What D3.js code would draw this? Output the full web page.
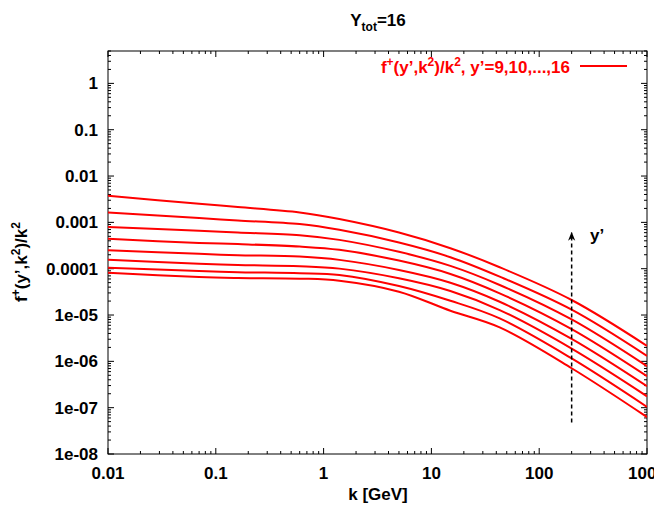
<!DOCTYPE html>
<html>
<head>
<meta charset="utf-8">
<script src="https://cdn.jsdelivr.net/npm/d3@7"></script>
<style>
  html, body { margin: 0; padding: 0; background: #fff; }
  svg { display: block; font-family: "Liberation Sans", Arial, sans-serif; font-weight: bold; }
</style>
</head>
<body>
<svg id="chart" width="654" height="506"></svg>
<script>
// ---- data ----
const kValues = [0.01, 0.07, 0.16, 0.6, 1.4, 5, 15, 43, 200, 1000];
const yPrimes = [9, 10, 11, 12, 13, 14, 15, 16];
const f_y9  = [8.21e-5, 6.6e-5, 6.3e-5, 6.1e-5,  5.51e-5, 3.19e-5, 1.236e-5, 5.40e-6, 7.10e-7, 6.27e-8];
const f_y10 = [1.054e-4, 8.9e-5, 8.4e-5, 8.0e-5, 7.33e-5, 4.23e-5, 2.03e-5, 8.46e-6, 1.158e-6, 1.042e-7];
const f_y11 = [1.55e-4, 1.28e-4, 1.2e-4, 1.13e-4, 1.003e-4, 6.22e-5, 3.30e-5, 1.28e-5, 1.88e-6, 1.76e-7];
const f_y12 = [2.51e-4, 2.09e-4, 1.956e-4, 1.824e-4, 1.55e-4, 9.40e-5, 4.99e-5, 1.936e-5, 3.05e-6, 2.90e-7];
const f_y13 = [4.41e-4, 3.6e-4, 3.4e-4, 3.00e-4, 2.55e-4, 1.495e-4, 7.70e-5, 2.94e-5, 4.96e-6, 4.77e-7];
const f_y14 = [7.90e-4, 6.57e-4, 6.03e-4, 5.30e-4, 4.19e-4, 2.31e-4, 1.148e-4, 4.45e-5, 8.01e-6, 7.85e-7];
const f_y15 = [1.635e-3, 1.237e-3, 1.098e-3, 9.18e-4, 6.90e-4, 3.67e-4, 1.77e-4, 6.73e-5, 1.30e-5, 1.305e-6];
const f_y16 = [3.76e-3, 2.52e-3, 2.14e-3, 1.635e-3, 1.177e-3, 6.03e-4, 2.77e-4, 1.075e-4, 2.11e-5, 2.16e-6];
const seriesValues = [f_y9, f_y10, f_y11, f_y12, f_y13, f_y14, f_y15, f_y16];

const xTickValues = [0.01, 0.1, 1, 10, 100, 1000];
const xTickLabels = ["0.01", "0.1", "1", "10", "100", "1000"];
const yTickValues = [1, 0.1, 0.01, 0.001, 0.0001, 1e-5, 1e-6, 1e-7, 1e-8];
const yTickLabels = ["1", "0.1", "0.01", "0.001", "0.0001", "1e-05", "1e-06", "1e-07", "1e-08"];

const arrowK = 200;
const arrowFrom = 4.8e-8;
const arrowTo = 6.0e-4;

// ---- layout ----
const svg = d3.select("#chart");
const pL = 108, pR = 647, pT = 51, pB = 454;
const x = d3.scaleLog().domain([0.01, 1000]).range([pL, pR]);
const y = d3.scaleLog().domain([1e-8, 5]).range([pB, pT]);
const red = "#ff0000";
const fs = 17;

// frame
svg.append("rect").attr("x", pL).attr("y", pT)
  .attr("width", pR - pL).attr("height", pB - pT)
  .attr("fill", "none").attr("stroke", "#000").attr("stroke-width", 1);

// ticks (inward, mirrored)
const majorLen = 6, minorLen = 3;
const xMinor = [];
for (let e = -2; e < 3; e++) for (let m = 2; m <= 9; m++) xMinor.push(m * Math.pow(10, e));
const yMinor = [];
for (let e = -8; e < 1; e++) for (let m = 2; m <= 9; m++) { const v = m * Math.pow(10, e); if (v <= 5) yMinor.push(v); }

const tg = svg.append("g").attr("stroke", "#000").attr("stroke-width", 1);
function xt(v, len) {
  tg.append("line").attr("x1", x(v)).attr("x2", x(v)).attr("y1", pB).attr("y2", pB - len);
  tg.append("line").attr("x1", x(v)).attr("x2", x(v)).attr("y1", pT).attr("y2", pT + len);
}
function yt(v, len) {
  tg.append("line").attr("x1", pL).attr("x2", pL + len).attr("y1", y(v)).attr("y2", y(v));
  tg.append("line").attr("x1", pR).attr("x2", pR - len).attr("y1", y(v)).attr("y2", y(v));
}
xTickValues.forEach(v => xt(v, majorLen));
xMinor.forEach(v => xt(v, minorLen));
yTickValues.forEach(v => yt(v, majorLen));
yMinor.forEach(v => yt(v, minorLen));

// tick labels
svg.append("g").selectAll("text").data(xTickValues).join("text")
  .attr("x", d => x(d)).attr("y", 479).attr("text-anchor", "middle")
  .attr("font-size", fs).text((d, i) => xTickLabels[i]);
svg.append("g").selectAll("text").data(yTickValues).join("text")
  .attr("x", 98).attr("y", d => y(d) + 6).attr("text-anchor", "end")
  .attr("font-size", fs).text((d, i) => yTickLabels[i]);

// curves
const line = d3.line()
  .x((d, i) => x(kValues[i]))
  .y(d => y(d))
  .curve(d3.curveCatmullRom.alpha(0.5));
svg.append("clipPath").attr("id", "clip")
  .append("rect").attr("x", pL).attr("y", pT).attr("width", pR - pL).attr("height", pB - pT);
svg.append("g").attr("clip-path", "url(#clip)")
  .selectAll("path").data(seriesValues).join("path")
  .attr("d", line).attr("fill", "none").attr("stroke", red).attr("stroke-width", 2);

// arrow
svg.append("defs").append("marker").attr("id", "head")
  .attr("viewBox", "0 0 10 10").attr("refX", 9).attr("refY", 5)
  .attr("markerWidth", 6).attr("markerHeight", 7).attr("orient", "auto")
  .append("path").attr("d", "M0,1 L10,5 L0,9 L3,5 z").attr("fill", "#000");
svg.append("line")
  .attr("x1", x(arrowK)).attr("x2", x(arrowK))
  .attr("y1", y(arrowFrom)).attr("y2", y(arrowTo))
  .attr("stroke", "#000").attr("stroke-width", 1.5)
  .attr("stroke-dasharray", "4,3").attr("marker-end", "url(#head)");
svg.append("text").attr("x", 590).attr("y", 241).attr("font-size", fs).text("y’");

// title
const title = svg.append("text").attr("x", 378).attr("y", 26).attr("text-anchor", "middle").attr("font-size", fs);
title.append("tspan").text("Y");
title.append("tspan").attr("font-size", 12).attr("dy", 5).text("tot");
title.append("tspan").attr("dy", -5).text("=16");

// legend
const lg = svg.append("text").attr("x", 570).attr("y", 73).attr("text-anchor", "end")
  .attr("font-size", fs).attr("fill", red);
lg.append("tspan").text("f");
lg.append("tspan").attr("font-size", 12).attr("dy", -7).text("+");
lg.append("tspan").attr("dy", 7).text("(y’,k");
lg.append("tspan").attr("font-size", 12).attr("dy", -7).text("2");
lg.append("tspan").attr("dy", 7).text(")/k");
lg.append("tspan").attr("font-size", 12).attr("dy", -7).text("2");
lg.append("tspan").attr("dy", 7).text(", y’=9,10,...,16");
svg.append("line").attr("x1", 580).attr("x2", 627).attr("y1", 66).attr("y2", 66)
  .attr("stroke", red).attr("stroke-width", 2);

// axis labels
svg.append("text").attr("x", 378).attr("y", 500).attr("text-anchor", "middle")
  .attr("font-size", fs).text("k [GeV]");
const yl = svg.append("text").attr("transform", "translate(27,262) rotate(-90)")
  .attr("text-anchor", "middle").attr("font-size", fs);
yl.append("tspan").text("f");
yl.append("tspan").attr("font-size", 12).attr("dy", -7).text("+");
yl.append("tspan").attr("dy", 7).text("(y’,k");
yl.append("tspan").attr("font-size", 12).attr("dy", -7).text("2");
yl.append("tspan").attr("dy", 7).text(")/k");
yl.append("tspan").attr("font-size", 12).attr("dy", -7).text("2");
</script>
</body>
</html>
